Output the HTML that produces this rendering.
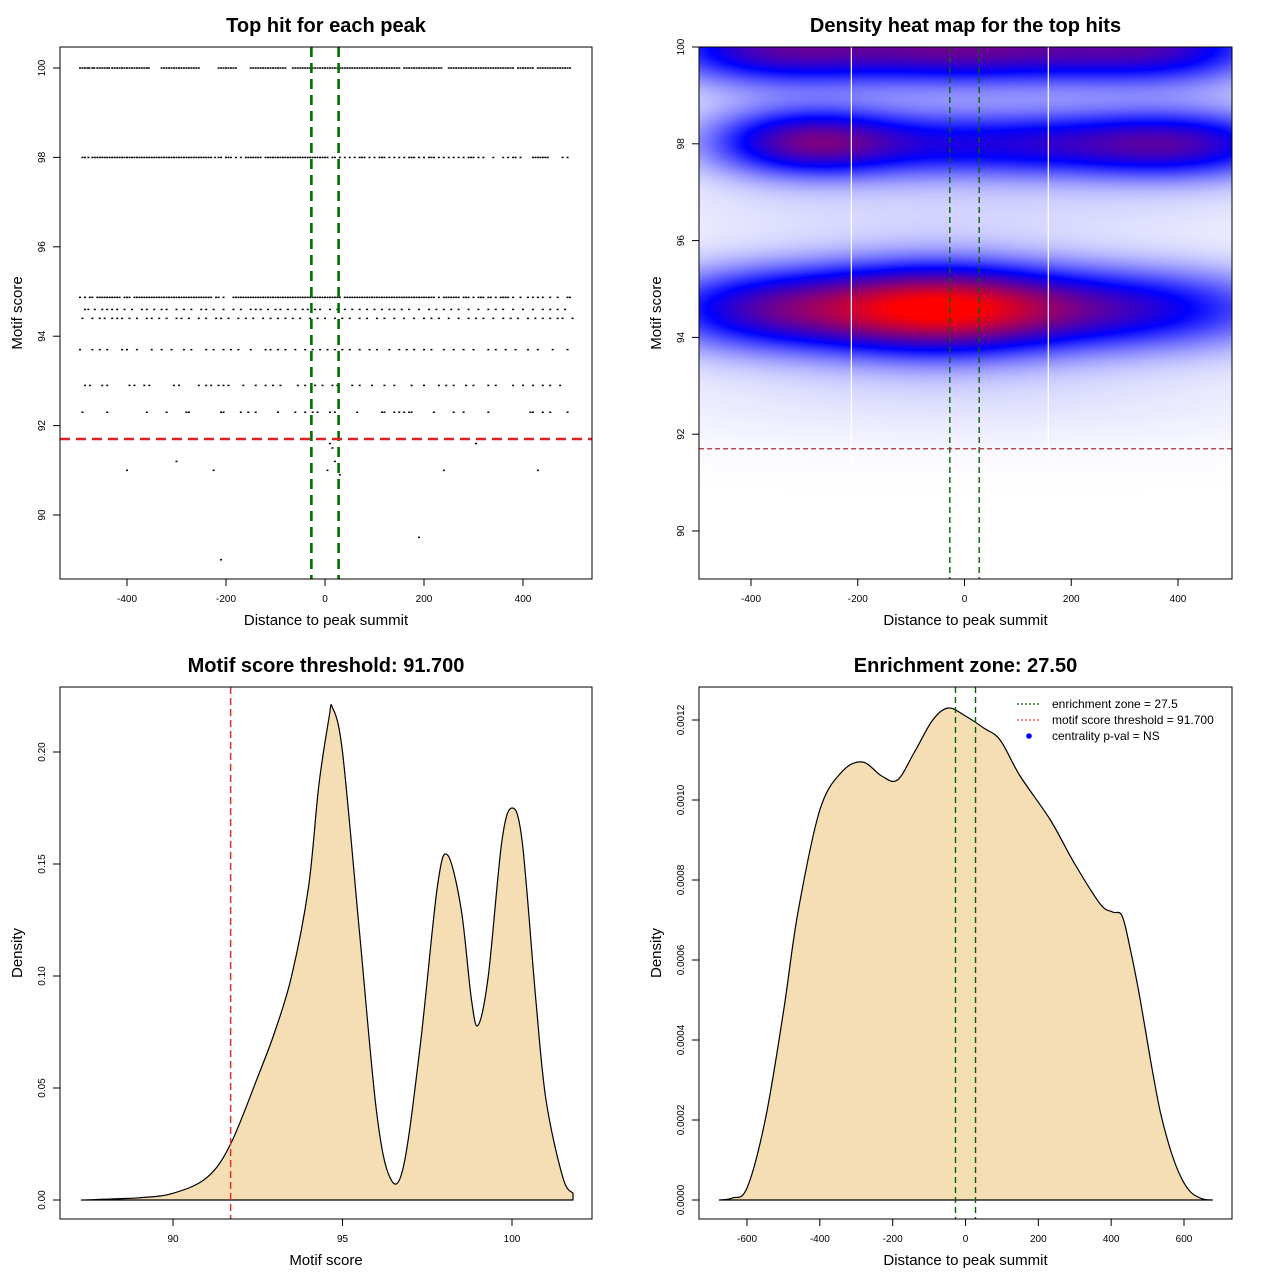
<!DOCTYPE html>
<html><head><meta charset="utf-8"><style>
html,body{margin:0;padding:0;background:#fff;width:1280px;height:1280px;overflow:hidden}
#wrap{position:relative;width:1280px;height:1280px}
#heat{position:absolute;left:699px;top:47px}
svg{position:absolute;left:0;top:0}
text{font-family:"Liberation Sans",sans-serif}
</style></head><body>
<div id="wrap">
<canvas id="heat" width="533" height="532"></canvas>
<svg id="s" width="1280" height="1280" xmlns="http://www.w3.org/2000/svg"></svg>
</div>
<script>
// ---------- data ----------
const scoreLevels = [100, 98, 94.87, 94.6, 94.4, 93.7, 92.9, 92.3];
const row100 = [-495,-490,-485,-480,-476,-470,-466,-460,-455,-450,-445,-440,-436,-430,-425,-420,-415,-410,-405,-400,-395,-390,-385,-380,-375,-370,-365,-360,-356,-330,-325,-320,-315,-310,-305,-300,-295,-290,-285,-280,-275,-270,-265,-260,-255,-215,-210,-205,-200,-195,-190,-185,-180,-150,-145,-140,-135,-130,-125,-120,-115,-110,-105,-100,-95,-90,-85,-80,-65,-60,-55,-50,-45,-40,-35,-30,-25,-20,-15,-10,-5,0,5,10,15,20,25,30,35,40,45,50,55,60,65,70,75,80,85,90,95,100,105,110,115,120,125,130,135,140,145,150,160,165,170,175,180,185,190,195,200,205,210,215,220,225,230,235,250,255,260,265,270,275,280,285,290,295,300,305,310,315,320,325,330,335,340,345,350,355,360,365,370,375,380,390,395,400,405,410,415,420,430,435,440,445,450,455,460,465,470,475,480,485,490,495];
const row98 = [-490,-485,-478,-470,-465,-460,-455,-450,-445,-440,-435,-430,-425,-420,-415,-410,-405,-400,-395,-390,-385,-380,-375,-370,-365,-360,-355,-350,-345,-340,-335,-330,-325,-320,-315,-310,-305,-300,-295,-290,-285,-280,-275,-270,-265,-260,-255,-250,-245,-240,-235,-230,-222,-215,-210,-200,-195,-190,-180,-170,-160,-155,-150,-145,-140,-135,-130,-120,-115,-110,-105,-100,-95,-90,-85,-80,-75,-70,-65,-60,-55,-50,-45,-40,-35,-30,-25,-20,-15,-10,-5,0,5,15,20,30,40,50,60,70,75,80,90,100,110,115,120,130,140,150,160,170,175,180,190,200,210,215,220,230,240,250,260,270,280,290,295,300,310,320,340,360,370,380,385,395,420,425,430,435,440,445,450,480,490];
const row9487 = [-495,-485,-475,-470,-460,-455,-450,-445,-440,-435,-430,-425,-420,-415,-405,-400,-395,-385,-380,-375,-370,-365,-360,-355,-350,-345,-340,-335,-330,-325,-320,-315,-310,-305,-300,-295,-290,-285,-280,-275,-270,-265,-260,-255,-250,-245,-240,-235,-230,-220,-215,-205,-185,-180,-175,-170,-165,-160,-155,-150,-145,-140,-135,-130,-125,-120,-115,-110,-105,-100,-95,-90,-85,-80,-75,-70,-65,-60,-55,-50,-45,-40,-35,-30,-25,-20,-15,-10,-5,0,5,10,15,20,25,30,40,45,50,55,60,65,70,75,80,85,90,95,100,105,110,115,120,125,130,135,140,145,150,155,160,165,170,175,180,185,190,195,200,205,210,215,220,230,240,245,250,255,260,265,270,280,285,290,300,310,315,320,330,335,345,355,360,365,370,380,395,410,420,430,440,455,470,490,495];
const row946 = [-485,-478,-465,-450,-440,-430,-420,-405,-390,-370,-360,-345,-330,-320,-300,-285,-270,-250,-240,-225,-205,-185,-170,-150,-140,-130,-115,-100,-90,-75,-60,-45,-35,-20,-10,10,25,40,55,70,85,100,115,130,140,155,170,190,210,225,240,255,270,290,310,330,345,360,380,400,420,440,455,470,485];
const row944 = [-490,-470,-455,-445,-430,-420,-410,-395,-380,-360,-350,-335,-320,-300,-290,-275,-255,-240,-220,-210,-195,-175,-160,-145,-125,-110,-95,-80,-65,-50,-30,-15,0,20,35,50,70,85,105,120,140,160,180,200,215,230,250,270,290,305,320,340,360,375,390,410,425,440,455,470,480,500];
const row937 = [-495,-470,-455,-440,-410,-400,-380,-350,-330,-310,-285,-270,-240,-225,-205,-190,-175,-150,-120,-110,-95,-80,-60,-40,-25,-10,5,20,35,50,70,90,105,130,150,165,180,200,215,240,260,280,300,330,345,365,385,410,430,460,490];
const row929 = [-485,-475,-450,-440,-395,-385,-365,-355,-305,-295,-255,-240,-230,-215,-205,-195,-165,-140,-120,-105,-90,-55,-40,-20,-5,15,25,55,70,95,120,140,175,200,230,245,260,285,300,330,345,380,400,420,440,455,475];
const row923 = [-490,-440,-360,-320,-280,-275,-210,-205,-170,-155,-140,-95,-60,-40,-25,-15,10,20,65,115,120,140,150,160,170,175,220,260,280,330,415,420,440,455,490];
const sparseX = [-400,-300,-225,-210,-140,10,15,20,5,30,240,305,430,190];
const sparseY = [91.0,91.2,91.0,89.0,91.7,91.6,91.5,91.2,91.0,90.9,91.0,91.6,91.0,89.5];

// heat map kernel components (x center, score center, weight, x spread, score spread)
const blobX = [-60, 300, -380, -300, 80, 420, 0, -380, 380, 0, 0];
const blobY = [94.6, 94.6, 94.6, 98.05, 98.0, 98.0, 100.0, 100.0, 100.0, 92.8, 96.6];
const blobW = [0.85, 0.5, 0.5, 0.55, 0.48, 0.42, 0.65, 0.48, 0.45, 0.05, 0.06];
const blobSX = [170, 220, 160, 130, 250, 150, 220, 150, 150, 500, 500];
const blobSY = [0.65, 0.6, 0.6, 0.5, 0.5, 0.5, 0.55, 0.55, 0.55, 0.7, 0.5];

const scoreDensX = [87.3,89,90,91,91.7,92.5,93,93.5,94,94.3,94.6,94.7,95,95.5,96,96.4,96.8,97.3,97.8,98.1,98.5,98.8,99,99.3,99.7,100,100.3,100.7,101,101.5,101.8];
const scoreDensY = [0,0.001,0.003,0.01,0.025,0.055,0.075,0.10,0.14,0.185,0.215,0.22,0.20,0.12,0.04,0.01,0.015,0.07,0.14,0.154,0.13,0.09,0.078,0.10,0.16,0.175,0.16,0.09,0.045,0.01,0.003];

const distDensX = [-676,-640,-600,-550,-500,-460,-400,-340,-283,-230,-187,-140,-90,-47,0,50,95,150,233,300,370,404,430,453,480,508,535,563,590,618,650,678];
const distDensY = [0,0.000005,0.00003,0.0002,0.00047,0.00072,0.000975,0.00107,0.001095,0.00106,0.00105,0.00112,0.0012,0.00123,0.00121,0.00118,0.00115,0.00106,0.00095,0.00084,0.00074,0.00072,0.00071,0.000625,0.0005,0.00035,0.00022,0.000125,0.00006,0.00002,0.000003,0];

const enrich = 27.5, thresh = 91.7;

// ---------- helpers ----------
const svg = document.getElementById('s');
const NS = 'http://www.w3.org/2000/svg';
function el(tag, attrs, parent){const e=document.createElementNS(NS,tag);for(const k in attrs)e.setAttribute(k,attrs[k]);(parent||svg).appendChild(e);return e;}
function lin(d0,d1,r0,r1){return v=>r0+(v-d0)*(r1-r0)/(d1-d0);}
function smooth(pts){let d='';for(let i=0;i<pts.length-1;i++){const p0=pts[Math.max(0,i-1)],p1=pts[i],p2=pts[i+1],p3=pts[Math.min(pts.length-1,i+2)];
  const c1x=p1[0]+(p2[0]-p0[0])/6,c1y=p1[1]+(p2[1]-p0[1])/6,c2x=p2[0]-(p3[0]-p1[0])/6,c2y=p2[1]-(p3[1]-p1[1])/6;
  d+=` C${c1x.toFixed(1)},${c1y.toFixed(1)} ${c2x.toFixed(1)},${c2y.toFixed(1)} ${p2[0].toFixed(1)},${p2[1].toFixed(1)}`;}return d;}

function panel(o){
  const g=el('g',{});
  
  
  const t=el('text',{x:(o.L+o.R)/2,y:o.T-15,'text-anchor':'middle','font-size':20,'font-weight':'bold'},g);
  t.textContent=o.title;
  
  
  const xt=el('text',{x:(o.L+o.R)/2,y:o.B+46,'text-anchor':'middle','font-size':15},g);
  xt.textContent=o.xlab;
  
  
  const yc=(o.T+o.B)/2;
  const yt=el('text',{x:o.L-38,y:yc,'text-anchor':'middle','font-size':15,transform:`rotate(-90 ${o.L-38} ${yc})`},g);
  yt.textContent=o.ylab;
  
  
  o.xticks.forEach((v,i)=>{const x=o.sx(v);el('line',{x1:x,x2:x,y1:o.B,y2:o.B+7,stroke:'#000'},g);
    const tx=el('text',{x:x,y:o.B+23,'text-anchor':'middle','font-size':10},g);tx.textContent=o.xlabels[i];
    
    });
  o.yticks.forEach((v,i)=>{const y=o.sy(v);el('line',{x1:o.L-7,x2:o.L,y1:y,y2:y,stroke:'#000'},g);
    const ty=el('text',{x:o.L-15,y:y,'text-anchor':'middle','font-size':10,transform:`rotate(-90 ${o.L-15} ${y})`},g);ty.textContent=o.ylabels[i];
    
    });
  el('line',{x1:o.sx(o.xticks[0]),x2:o.sx(o.xticks[o.xticks.length-1]),y1:o.B,y2:o.B,stroke:'#000'},g);
  el('line',{x1:o.L,x2:o.L,y1:o.sy(o.yticks[0]),y2:o.sy(o.yticks[o.yticks.length-1]),stroke:'#000'},g);
  return g;
}
function frame(L,T,R,B){const r=el('rect',{x:L,y:T,width:R-L,height:B-T,fill:'none',stroke:'#000'});
  
  }

// ---------- panel 1: scatter ----------
{
  const L=60,T=47,R=592,B=579;
  const sx=lin(0,400,325,523), sy=lin(90,100,515,68);
  const g=panel({name:'top-hit-scatter-panel',L,T,R,B,sx,sy,title:'Top hit for each peak',xlab:'Distance to peak summit',ylab:'Motif score',
    xticks:[-400,-200,0,200,400],xlabels:['-400','-200','0','200','400'],yticks:[90,92,94,96,98,100],ylabels:['90','92','94','96','98','100']});
  const rows=[row100,row98,row9487,row946,row944,row937,row929,row923];
  rows.forEach((r,i)=>r.forEach(x=>{const p=el('rect',{x:sx(x)-1,y:sy(scoreLevels[i])-0.7,width:2,height:1.5,fill:'#000'},g);
    
    }));
  sparseX.forEach((x,i)=>{const p=el('rect',{x:sx(x)-1,y:sy(sparseY[i])-0.7,width:2,height:1.5,fill:'#000'},g);
    
    });
  [-enrich,enrich].forEach(v=>{const l=el('line',{x1:sx(v),x2:sx(v),y1:T,y2:B,stroke:'#007000','stroke-width':2.6,'stroke-dasharray':'10 6'},g);
    
    });
  const h=el('line',{x1:L,x2:R,y1:sy(thresh),y2:sy(thresh),stroke:'#e02020','stroke-width':2.6,'stroke-dasharray':'10 6'},g);
  
  
  frame(L,T,R,B);
}

// ---------- panel 2: heat map ----------
{
  const L=699,T=47,R=1232,B=579;
  const sx=lin(0,400,964.5,1178), sy=lin(90,100,531,47);
  const cv=document.getElementById('heat'), ctx=cv.getContext('2d');
  const W=cv.width,H=cv.height, img=ctx.createImageData(W,H);
  const toX=px=>(px+L-964.5)/((1178-964.5)/400);
  const toY=py=>90+(531-(py+T))/((531-47)/10);
  for(let py=0;py<H;py++){const yv=toY(py);for(let px=0;px<W;px++){const xv=toX(px);let d=0;
    for(let k=0;k<blobX.length;k++){const dx=(xv-blobX[k])/blobSX[k],dy=(yv-blobY[k])/blobSY[k];d+=blobW[k]*Math.exp(-0.5*(dx*dx+dy*dy));}
    let t=Math.min(1,d/1.0);let r,gg,b;
    if(t<0.45){const u=t/0.45;r=255*(1-u);gg=255*(1-u);b=255;}else{const u=(t-0.45)/0.55;r=255*u;gg=0;b=255*(1-u);}
    const i=(py*W+px)*4;img.data[i]=r;img.data[i+1]=gg;img.data[i+2]=b;img.data[i+3]=255;}}
  ctx.putImageData(img,0,0);
  const g=panel({name:'density-heatmap-panel',L,T,R,B,sx,sy,title:'Density heat map for the top hits',xlab:'Distance to peak summit',ylab:'Motif score',
    xticks:[-400,-200,0,200,400],xlabels:['-400','-200','0','200','400'],yticks:[90,92,94,96,98,100],ylabels:['90','92','94','96','98','100']});
  [-212,157].forEach(v=>{const l=el('line',{x1:sx(v),x2:sx(v),y1:T,y2:B,stroke:'#fff','stroke-width':1.2},g);
    
    });
  [-enrich,enrich].forEach(v=>{const l=el('line',{x1:sx(v),x2:sx(v),y1:T,y2:B,stroke:'#006400','stroke-width':1.4,'stroke-dasharray':'6 4'},g);
    
    });
  const h=el('line',{x1:L,x2:R,y1:sy(thresh),y2:sy(thresh),stroke:'#b03030','stroke-width':1.2,'stroke-dasharray':'5 3'},g);
  
  
  frame(L,T,R,B);
}

// ---------- panel 3: score density ----------
{
  const L=60,T=687,R=592,B=1219;
  const sx=lin(90,100,173,512), sy=lin(0,0.2,1200,752);
  const g=panel({name:'score-density-panel',L,T,R,B,sx,sy,title:'Motif score threshold: 91.700',xlab:'Motif score',ylab:'Density',
    xticks:[90,95,100],xlabels:['90','95','100'],yticks:[0,0.05,0.1,0.15,0.2],ylabels:['0.00','0.05','0.10','0.15','0.20']});
  const pts=scoreDensX.map((x,i)=>[sx(x),sy(scoreDensY[i])]);
  let d='M'+pts[0][0]+','+sy(0)+' L'+pts[0][0]+','+pts[0][1]+smooth(pts)+' L'+pts[pts.length-1][0]+','+sy(0)+' Z';
  const p=el('path',{d,fill:'#f5deb3',stroke:'#000','stroke-width':1.2,'stroke-linejoin':'round'},g);
  
  
  const v=el('line',{x1:sx(thresh),x2:sx(thresh),y1:T,y2:B,stroke:'#e03030','stroke-width':1.5,'stroke-dasharray':'7 4'},g);
  
  
  frame(L,T,R,B);
}

// ---------- panel 4: distance density ----------
{
  const L=699,T=687,R=1232,B=1219;
  const sx=lin(0,600,965.5,1184), sy=lin(0,0.0012,1200,720);
  const g=panel({name:'distance-density-panel',L,T,R,B,sx,sy,title:'Enrichment zone: 27.50',xlab:'Distance to peak summit',ylab:'Density',
    xticks:[-600,-400,-200,0,200,400,600],xlabels:['-600','-400','-200','0','200','400','600'],
    yticks:[0,0.0002,0.0004,0.0006,0.0008,0.001,0.0012],ylabels:['0.0000','0.0002','0.0004','0.0006','0.0008','0.0010','0.0012']});
  const pts=distDensX.map((x,i)=>[sx(x),sy(distDensY[i])]);
  let d='M'+pts[0][0]+','+pts[0][1]+smooth(pts)+' Z';
  const p=el('path',{d,fill:'#f5deb3',stroke:'#000','stroke-width':1.2,'stroke-linejoin':'round'},g);
  
  
  [-enrich,enrich].forEach(v=>{const l=el('line',{x1:sx(v),x2:sx(v),y1:T,y2:B,stroke:'#006400','stroke-width':1.4,'stroke-dasharray':'6 4'},g);
    
    });
  const lg=el('g',{},g);
  
  
  const items=[['enrichment zone = 27.5','#006400','line'],['motif score threshold = 91.700','#ff4040','line'],['centrality p-val = NS','#0000ff','dot']];
  items.forEach((it,i)=>{const y=704+i*16;
    if(it[2]==='line'){el('line',{x1:1017,x2:1041,y1:y,y2:y,stroke:it[1],'stroke-width':1.2,'stroke-dasharray':'2 2'},lg);}
    else el('circle',{cx:1029,cy:y,r:2.8,fill:it[1]},lg);
    const t=el('text',{x:1052,y:y+4,'font-size':12},lg);t.textContent=it[0];
    
    });
  frame(L,T,R,B);
}
</script>
</body></html>
